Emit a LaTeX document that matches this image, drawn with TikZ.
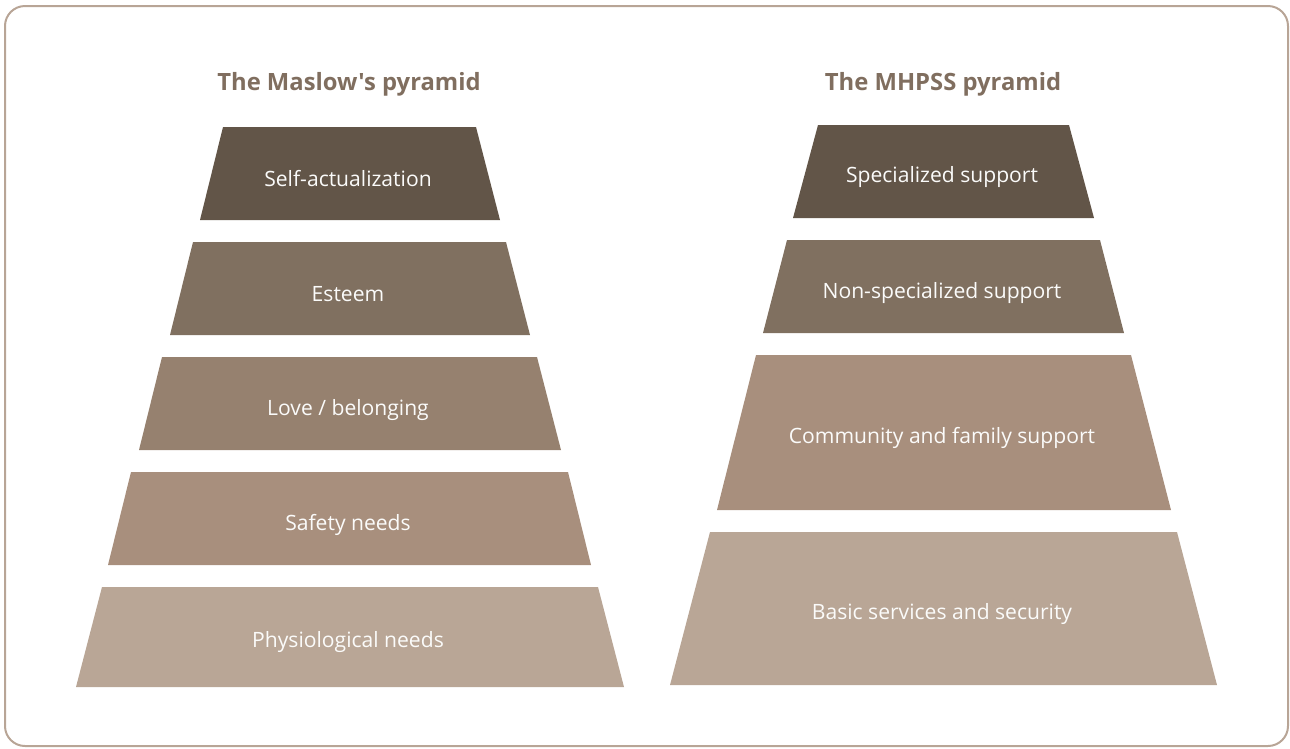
\documentclass[tikz,border=0pt]{standalone}
\usepackage{fontspec}
\setmainfont{Open Sans}[Ligatures=TeXOff]
\definecolor{cA}{HTML}{625548}
\definecolor{cB}{HTML}{807060}
\definecolor{cC}{HTML}{96816F}
\definecolor{cD}{HTML}{A88F7D}
\definecolor{cE}{HTML}{B9A696}
\definecolor{frame}{HTML}{B8A596}
\definecolor{titlec}{HTML}{806E5F}
\begin{document}
\begin{tikzpicture}[x=1pt,y=-1pt,
  lbl/.style={text=white!95!cE,font=\fontsize{21.1}{25}\selectfont,inner sep=0pt},
  ttl/.style={text=titlec,font=\bfseries\fontsize{23.8}{28}\selectfont,inner sep=0pt}]
\useasboundingbox (0,0) rectangle (1290,748);
\draw[frame,line width=2pt,rounded corners=20pt] (5,6) rectangle (1288,746);
\node[ttl] (t1) at (349,84) {The Maslow's pyramid};
\node[ttl] (t2) at (943,84) {The MHPSS pyramid};
% Maslow
\fill[cA] (223,127) -- (476,127) -- (500,220) -- (200,220) -- cycle;
\node[lbl] (m1) at (348,179) {Self-actualization};
\fill[cB] (193,242) -- (506,242) -- (530,335) -- (170,335) -- cycle;
\node[lbl] (m2) at (348,294) {Esteem};
\fill[cC] (162,357) -- (537,357) -- (561,450) -- (139,450) -- cycle;
\node[lbl] (m3) at (348,410) {Love / belonging};
\fill[cD] (131,472) -- (568,472) -- (591,565) -- (108,565) -- cycle;
\node[lbl] (m4) at (348,525) {Safety needs};
\fill[cE] (102,587) -- (598,587) -- (624,687) -- (76,687) -- cycle;
\node[lbl] (m5) at (348,642) {Physiological needs};
% MHPSS
\fill[cA] (818,125) -- (1069,125) -- (1094,218) -- (793,218) -- cycle;
\node[lbl] (h1) at (942,177) {Specialized support};
\fill[cB] (787,240) -- (1100,240) -- (1124,333) -- (763,333) -- cycle;
\node[lbl] (h2) at (942,293) {Non-specialized support};
\fill[cD] (756,355) -- (1131,355) -- (1171,510) -- (717,510) -- cycle;
\node[lbl] (h3) at (942,438) {Community and family support};
\fill[cE] (710,532) -- (1177,532) -- (1217,685) -- (670,685) -- cycle;
\node[lbl] (h4) at (942,614) {Basic services and security};
\end{tikzpicture}
\end{document}
